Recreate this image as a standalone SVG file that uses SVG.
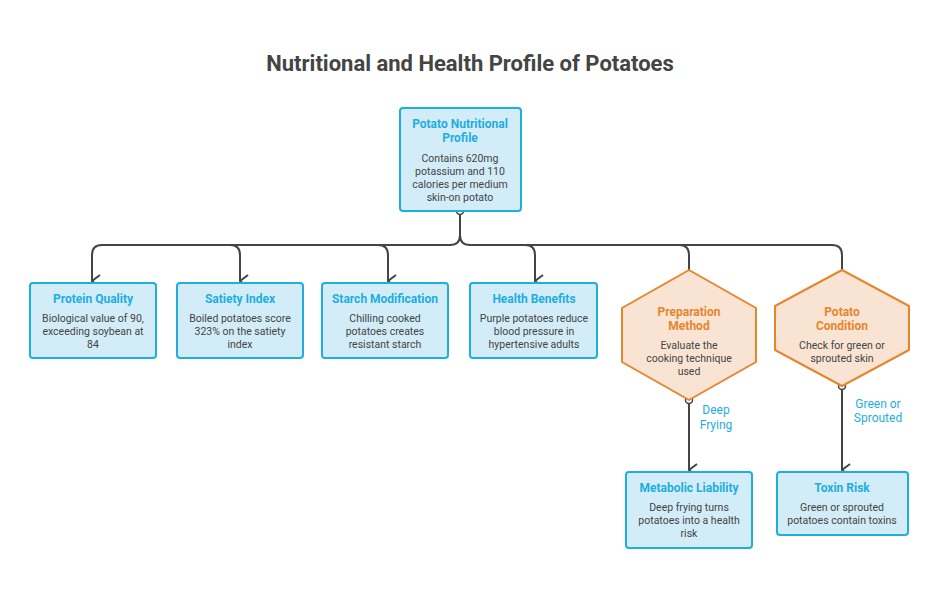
<svg xmlns="http://www.w3.org/2000/svg" width="940" height="602" viewBox="0 0 940 602">
<style>
text{font-family:Roboto,"Liberation Sans",sans-serif;text-anchor:middle}
.box{fill:#d3edf8;stroke:#1eaee0;stroke-width:2}
.hex{fill:#f9e4d3;stroke:#e5862f;stroke-width:2}
.t{font-size:12px;font-weight:bold;fill:#1eaee0}
.o{font-size:12px;font-weight:bold;fill:#e5862f}
.d{font-size:10.5px;fill:#444}
.l{font-size:12px;fill:#1eaee0}
.c{fill:none;stroke:#444;stroke-width:2}
</style>
<defs><marker id="a" markerWidth="14" markerHeight="10" refX="7" refY="9" orient="auto-start-reverse" markerUnits="userSpaceOnUse"><path d="M1,1 L7,9 L13,1" fill="none" stroke="#444" stroke-width="2"/></marker></defs>
<text x="470" y="71" style="font-size:22px;font-weight:bold;fill:#444">Nutritional and Health Profile of Potatoes</text>
<g id="connectors">
<path class="c" d="M460,211 V235 Q460,245 450,245 H102 Q92,245 92,255 V281" marker-end="url(#a)"/>
<path class="c" d="M460,235 Q460,245 470,245 H832 Q842,245 842,255 V281" marker-end="url(#a)"/>
<path class="c" d="M230,245 Q240,245 240,255 V281" marker-end="url(#a)"/>
<path class="c" d="M378,245 Q388,245 388,255 V281" marker-end="url(#a)"/>
<path class="c" d="M525,245 Q535,245 535,255 V281" marker-end="url(#a)"/>
<path class="c" d="M679,245 Q689,245 689,255 V281" marker-end="url(#a)"/>
<path class="c" d="M689,400 V470" marker-end="url(#a)"/>
<path class="c" d="M842,386 V470" marker-end="url(#a)"/>
<circle cx="460" cy="211" r="3.5" fill="#fff" stroke="#444" stroke-width="1.5"/>
<circle cx="689" cy="400" r="3.5" fill="#fff" stroke="#444" stroke-width="1.5"/>
<circle cx="842" cy="386" r="3.5" fill="#fff" stroke="#444" stroke-width="1.5"/>
<text class="l" x="716" y="414">Deep</text><text class="l" x="716" y="429">Frying</text>
<text class="l" x="878" y="408">Green or</text><text class="l" x="878" y="422">Sprouted</text>
</g>
<g id="root"><rect class="box" x="400" y="108" width="121" height="103" rx="3"/>
<text class="t" x="460" y="128">Potato Nutritional</text><text class="t" x="460" y="142">Profile</text>
<text class="d" x="460" y="162">Contains 620mg</text><text class="d" x="460" y="175">potassium and 110</text><text class="d" x="460" y="188">calories per medium</text><text class="d" x="460" y="201">skin-on potato</text></g>
<g id="protein"><rect class="box" x="30" y="283" width="126" height="75" rx="3"/>
<text class="t" x="93" y="303">Protein Quality</text><text class="d" x="93" y="322">Biological value of 90,</text><text class="d" x="93" y="335">exceeding soybean at</text><text class="d" x="93" y="348">84</text></g>
<g id="satiety"><rect class="box" x="177" y="283" width="126" height="75" rx="3"/>
<text class="t" x="240" y="303">Satiety Index</text><text class="d" x="240" y="322">Boiled potatoes score</text><text class="d" x="240" y="335">323% on the satiety</text><text class="d" x="240" y="348">index</text></g>
<g id="starch"><rect class="box" x="322" y="283" width="126" height="75" rx="3"/>
<text class="t" x="385" y="303">Starch Modification</text><text class="d" x="385" y="322">Chilling cooked</text><text class="d" x="385" y="335">potatoes creates</text><text class="d" x="385" y="348">resistant starch</text></g>
<g id="health"><rect class="box" x="470" y="283" width="127" height="75" rx="3"/>
<text class="t" x="534" y="303">Health Benefits</text><text class="d" x="534" y="322">Purple potatoes reduce</text><text class="d" x="534" y="335">blood pressure in</text><text class="d" x="534" y="348">hypertensive adults</text></g>
<g id="prep"><path class="hex" d="M689,270 L756,308 V362 L689,400 L622,362 V308 Z" stroke-linejoin="round"/>
<text class="o" x="689" y="316">Preparation</text><text class="o" x="689" y="330">Method</text>
<text class="d" x="689" y="349">Evaluate the</text><text class="d" x="689" y="362">cooking technique</text><text class="d" x="689" y="375">used</text></g>
<g id="cond"><path class="hex" d="M842,270 L909,306 V350 L842,386 L775,350 V306 Z" stroke-linejoin="round"/>
<text class="o" x="842" y="316">Potato</text><text class="o" x="842" y="330">Condition</text>
<text class="d" x="842" y="349">Check for green or</text><text class="d" x="842" y="362">sprouted skin</text></g>
<g id="metabolic"><rect class="box" x="626" y="472" width="126" height="76" rx="3"/>
<text class="t" x="689" y="492">Metabolic Liability</text><text class="d" x="689" y="511">Deep frying turns</text><text class="d" x="689" y="524">potatoes into a health</text><text class="d" x="689" y="537">risk</text></g>
<g id="toxin"><rect class="box" x="777" y="472" width="131" height="63" rx="3"/>
<text class="t" x="842" y="492">Toxin Risk</text><text class="d" x="842" y="511">Green or sprouted</text><text class="d" x="842" y="524">potatoes contain toxins</text></g>
</svg>
